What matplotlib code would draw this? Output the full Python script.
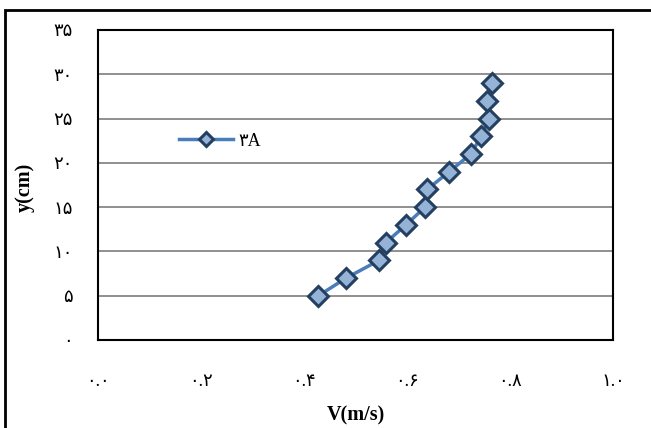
import matplotlib
matplotlib.use('Agg')
import matplotlib.pyplot as plt
from matplotlib.patches import Rectangle

# Velocity profile values
velocity = [0.428, 0.482, 0.546, 0.559, 0.598, 0.635, 0.639, 0.682, 0.724, 0.744, 0.759, 0.755, 0.766]
depth = [5, 7, 9, 11, 13, 15, 17, 19, 21, 23, 25, 27, 29]
series_name = '۳A'

x_ticks = [0.0, 0.2, 0.4, 0.6, 0.8, 1.0]
x_tick_labels = ['۰.۰', '۰.۲', '۰.۴', '۰.۶', '۰.۸', '۱.۰']
y_ticks = [0, 5, 10, 15, 20, 25, 30, 35]
y_tick_labels = ['۰', '۵', '۱۰', '۱۵', '۲۰', '۲۵', '۳۰', '۳۵']

fonts = ['Liberation Serif', 'DejaVu Sans']
plt.rcParams['font.family'] = fonts

W, H = 651, 428
fig = plt.figure(figsize=(W / 100, H / 100), dpi=100)

# outer chart border (runs off the right and bottom edges)
fig.patches.append(Rectangle((5 / W, -0.05), 1.1, 1 - 10 / H + 0.05, transform=fig.transFigure,
                             fill=False, edgecolor='black', linewidth=2, clip_on=False))

ax = fig.add_axes([98 / W, (H - 340) / H, 515 / W, 310 / H])
ax.set_xlim(0, 1.0)
ax.set_ylim(0, 35)

for yv in y_ticks[1:-1]:
    ax.axhline(yv, color='#878787', linewidth=1.3, zorder=1)

ax.plot(velocity, depth, color='#4a7ebb', linewidth=2.5, marker='D', markersize=10.5,
        markerfacecolor='#95b3d7', markeredgecolor='#243f60', markeredgewidth=2.2, zorder=3,
        label=series_name)

ax.set_xticks(x_ticks)
ax.set_xticklabels(x_tick_labels, fontsize=13)
ax.set_yticks(y_ticks)
ax.set_yticklabels(y_tick_labels, fontsize=13)
ax.tick_params(axis='x', length=0, pad=24)
ax.tick_params(axis='y', length=0, pad=18)

for s in ax.spines.values():
    s.set_linewidth(1.5)
    s.set_color('black')

fig.text(25 / W, 1 - 187 / H, 'y(cm)', rotation=90, ha='center', va='center',
         fontsize=14.5, fontweight='bold')
fig.text(356 / W, 1 - 415 / H, 'V(m/s)', ha='center', va='center',
         fontsize=14.5, fontweight='bold')

ax.legend(loc='center left', bbox_to_anchor=(179 / W, 1 - 141 / H), bbox_transform=fig.transFigure,
          frameon=False, fontsize=13, handlelength=3.0, handletextpad=0.3, borderpad=0,
          borderaxespad=0, markerscale=0.65)

fig.savefig('out.png', dpi=100)
